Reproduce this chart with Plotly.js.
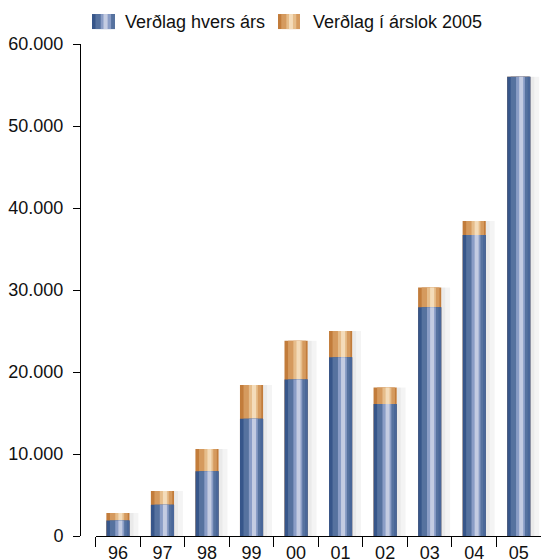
<!DOCTYPE html>
<html>
<head>
<meta charset="utf-8">
<script src="https://cdn.plot.ly/plotly-3.0.1.min.js"></script>
<style>html,body{margin:0;padding:0;background:#fff;}#chart{width:541px;height:560px;}</style>
</head>
<body>
<div id="chart"></div>
<script>
// Data
var years = ['96', '97', '98', '99', '00', '01', '02', '03', '04', '05'];
var nominal = [1900, 3800, 7900, 14300, 19100, 21800, 16100, 27900, 36700, 56000];   // Verðlag hvers árs
var real2005 = [2800, 5500, 10600, 18400, 23800, 25000, 18100, 30300, 38400, 56000]; // Verðlag í árslok 2005
var seriesNames = ['Verðlag hvers árs', 'Verðlag í árslok 2005'];
var yTicks = [0, 10000, 20000, 30000, 40000, 50000, 60000];

var W = 0.52, L = -0.26;
function layer(vals, off, wid, color, name) {
  return {type: 'bar', x: years, y: vals, width: wid, offset: off,
          marker: {color: color, line: {width: 0}}, hoverinfo: 'skip',
          showlegend: false, name: name || ''};
}
var traces = [];
// soft shadow to the right
traces.push(layer(real2005, L + W, 0.2, 'rgba(0,0,0,0.045)'));
traces.push(layer(real2005, L + W, 0.09, 'rgba(0,0,0,0.04)'));
// orange (2005 prices), cylinder shading
traces.push(layer(real2005, L, W, '#c27c3b', seriesNames[1]));
traces.push(layer(real2005, L + 0.08, 0.40, '#d59a5e'));
traces.push(layer(real2005, L + 0.20, 0.20, '#e6bd8b'));
traces.push(layer(real2005, L + 0.27, 0.09, '#f4dcba'));
// blue (nominal), cylinder shading
traces.push(layer(nominal, L, W, '#37568a', seriesNames[0]));
traces.push(layer(nominal, L + 0.08, 0.40, '#56729f'));
traces.push(layer(nominal, L + 0.20, 0.20, '#8a9dc6'));
traces.push(layer(nominal, L + 0.27, 0.09, '#c4cce2'));
traces.push(layer(nominal, L + 0.46, 0.06, '#4a6799'));

var F = 'Liberation Sans, Arial, Helvetica, sans-serif';
function swatch(x0, x1, cols) {
  var out = [];
  var y0 = 1.0304, y1 = 1.0609, w = x1 - x0;
  var parts = [[0, 1], [0.15, 0.85], [0.38, 0.45], [0.5, 0.18]];
  for (var i = 0; i < parts.length; i++) {
    out.push({type: 'rect', xref: 'paper', yref: 'paper', x0: x0 + parts[i][0] * w,
              x1: x0 + (parts[i][0] + parts[i][1]) * w, y0: y0, y1: y1,
              fillcolor: cols[i], line: {width: 0}});
  }
  return out;
}
var shapes = swatch(0.026, 0.0759, ['#37568a', '#56729f', '#8a9dc6', '#c4cce2'])
  .concat(swatch(0.4295, 0.4772, ['#c27c3b', '#d59a5e', '#e6bd8b', '#f4dcba']));

var layout = {
  width: 541, height: 560,
  margin: {l: 80, r: 0, t: 44, b: 24, pad: 0},
  paper_bgcolor: '#ffffff', plot_bgcolor: '#ffffff',
  font: {family: F, size: 18, color: '#111111'},
  separators: ',.',
  barmode: 'overlay',
  showlegend: false,
  xaxis: {type: 'category', domain: [0.034, 1], anchor: 'y',
          showline: true, linecolor: '#000', linewidth: 1,
          ticks: 'outside', tickson: 'boundaries', ticklen: 10, tickcolor: '#000', tickwidth: 1,
          showgrid: false, zeroline: false, fixedrange: true,
          tickfont: {family: F, size: 18, color: '#111'}},
  yaxis: {range: [0, 60000], anchor: 'free', position: 0,
          tickvals: yTicks, tickformat: ',d',
          showline: true, linecolor: '#000', linewidth: 1,
          ticks: 'outside', ticklen: 7, tickcolor: '#000', tickwidth: 1,
          ticklabelstandoff: 6,
          showgrid: false, zeroline: false, fixedrange: true,
          tickfont: {family: F, size: 18, color: '#111'}},
  shapes: shapes,
  annotations: [
    {xref: 'paper', yref: 'paper', x: 0.0933, y: 1.0446, xanchor: 'left', yanchor: 'middle',
     text: seriesNames[0], showarrow: false, font: {family: F, size: 18, color: '#111'}},
    {xref: 'paper', yref: 'paper', x: 0.501, y: 1.0446, xanchor: 'left', yanchor: 'middle',
     text: seriesNames[1], showarrow: false, font: {family: F, size: 18, color: '#111'}}
  ]
};
Plotly.newPlot('chart', traces, layout, {displayModeBar: false, staticPlot: true});
</script>
</body>
</html>
